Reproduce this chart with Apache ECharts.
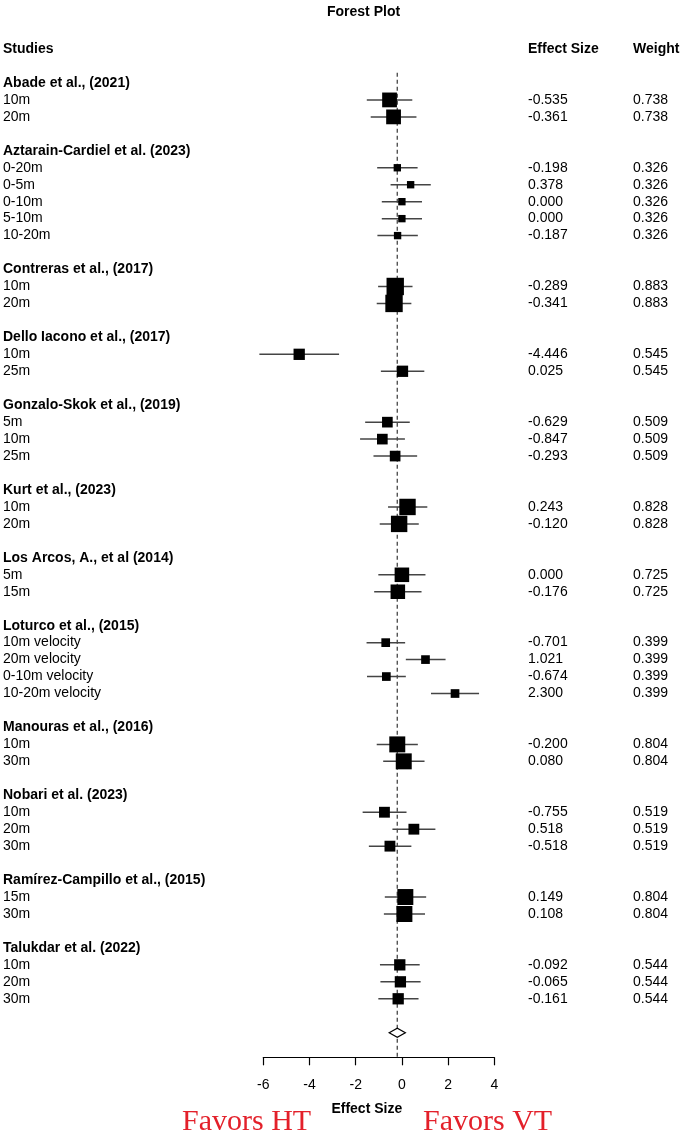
<!DOCTYPE html>
<html>
<head>
<meta charset="utf-8">
<script src="https://cdn.jsdelivr.net/npm/echarts@6/dist/echarts.min.js"></script>
<style>
  html, body { margin: 0; padding: 0; background: #fff; }
  #chart { width: 688px; height: 1134px; }
</style>
</head>
<body>
<div id="chart"></div>
<script>
const studyNames = [
  "Abade et al., (2021)",
  "Aztarain-Cardiel et al. (2023)",
  "Contreras et al., (2017)",
  "Dello Iacono et al., (2017)",
  "Gonzalo-Skok et al., (2019)",
  "Kurt et al., (2023)",
  "Los Arcos, A., et al (2014)",
  "Loturco et al., (2015)",
  "Manouras et al., (2016)",
  "Nobari et al. (2023)",
  "Ramírez-Campillo et al., (2015)",
  "Talukdar et al. (2022)",
];
const outcomeStudy = [0, 0, 1, 1, 1, 1, 1, 2, 2, 3, 3, 4, 4, 4, 5, 5, 6, 6, 7, 7, 7, 7, 8, 8, 9, 9, 9, 10, 10, 11, 11, 11];
const outcomeLabels = [
  "10m", "20m",
  "0-20m", "0-5m", "0-10m", "5-10m", "10-20m",
  "10m", "20m",
  "10m", "25m",
  "5m", "10m", "25m",
  "10m", "20m",
  "5m", "15m",
  "10m velocity", "20m velocity", "0-10m velocity", "10-20m velocity",
  "10m", "30m",
  "10m", "20m", "30m",
  "15m", "30m",
  "10m", "20m", "30m",
];
const effectSizes = [
  -0.535, -0.361,
  -0.198, 0.378, 0.0, 0.0, -0.187,
  -0.289, -0.341,
  -4.446, 0.025,
  -0.629, -0.847, -0.293,
  0.243, -0.12,
  0.0, -0.176,
  -0.701, 1.021, -0.674, 2.3,
  -0.2, 0.08,
  -0.755, 0.518, -0.518,
  0.149, 0.108,
  -0.092, -0.065, -0.161,
];
const ciLower = [
  -1.52, -1.35,
  -1.07, -0.49, -0.87, -0.87, -1.06,
  -1.03, -1.09,
  -6.17, -0.91,
  -1.59, -1.81, -1.23,
  -0.6, -0.96,
  -1.02, -1.2,
  -1.53, 0.17, -1.51, 1.26,
  -1.09, -0.81,
  -1.7, -0.41, -1.43,
  -0.74, -0.78,
  -0.95, -0.93, -1.02,
];
const ciUpper = [
  0.45, 0.63,
  0.68, 1.25, 0.87, 0.87, 0.69,
  0.46, 0.41,
  -2.72, 0.97,
  0.34, 0.13, 0.66,
  1.1, 0.73,
  1.02, 0.85,
  0.14, 1.89, 0.17, 3.34,
  0.69, 0.98,
  0.2, 1.45, 0.41,
  1.05, 1.0,
  0.77, 0.81, 0.72,
];
const weights = [
  0.738, 0.738,
  0.326, 0.326, 0.326, 0.326, 0.326,
  0.883, 0.883,
  0.545, 0.545,
  0.509, 0.509, 0.509,
  0.828, 0.828,
  0.725, 0.725,
  0.399, 0.399, 0.399, 0.399,
  0.804, 0.804,
  0.519, 0.519, 0.519,
  0.804, 0.804,
  0.544, 0.544, 0.544,
];
const summaryEffect = -0.2;
const summaryLower = -0.55;
const summaryUpper = 0.15;
const columnHeaders = ["Studies", "Effect Size", "Weight"];
const xTicks = { min: -6, max: 4, interval: 2 };

// table layout: one line per row, group header, outcomes, blank line
const tableRows = [{ k: -2, cells: columnHeaders, bold: true }];
const outcomeRow = [];
let k = 0;
studyNames.forEach((name, s) => {
  tableRows.push({ k, cells: [name, "", ""], bold: true });
  k++;
  outcomeLabels.forEach((label, i) => {
    if (outcomeStudy[i] !== s) return;
    outcomeRow[i] = k;
    tableRows.push({
      k,
      cells: [label, effectSizes[i].toFixed(3), weights[i].toFixed(3)],
      bold: false,
    });
    k++;
  });
  k++;
});
const summaryRow = k;
const yMax = summaryRow + 1.45;

const FONT = "'Liberation Sans', Arial, Helvetica, sans-serif";
const columnX = [3, 528, 633];

const chart = echarts.init(document.getElementById("chart"), undefined, { renderer: "canvas" });
chart.setOption({
  animation: false,
  backgroundColor: "#fff",
  title: {
    text: "Forest Plot",
    left: 322,
    top: 0,
    textStyle: { fontFamily: FONT, fontSize: 14, fontWeight: "bold", color: "#000" },
  },
  grid: { left: 263.3, right: 193.7, top: 66, bottom: 76.7 },
  xAxis: {
    type: "value",
    min: xTicks.min,
    max: xTicks.max,
    interval: xTicks.interval,
    name: "Effect Size",
    nameLocation: "middle",
    nameGap: 45,
    nameTextStyle: {
      fontFamily: FONT,
      fontSize: 14,
      fontWeight: "bold",
      color: "#000",
      padding: [0, 24, 0, 0],
    },
    axisLine: { onZero: false, lineStyle: { color: "#000", width: 1.2 } },
    axisTick: { length: 8, lineStyle: { color: "#000", width: 1.2 } },
    axisLabel: { fontFamily: FONT, fontSize: 14, color: "#000", margin: 21 },
    splitLine: { show: false },
  },
  yAxis: { type: "value", inverse: true, min: -1, max: yMax, show: false },
  graphic: [
    {
      type: "text",
      left: 182,
      top: 1107,
      style: { text: "Favors HT", font: "30px 'Liberation Serif', 'Times New Roman', serif", fill: "#e3202a" },
    },
    {
      type: "text",
      left: 423,
      top: 1107,
      style: { text: "Favors VT", font: "30px 'Liberation Serif', 'Times New Roman', serif", fill: "#e3202a" },
    },
  ],
  series: [
    {
      // reference line at the pooled effect
      type: "line",
      data: [[summaryEffect, -0.6], [summaryEffect, yMax]],
      symbol: "none",
      lineStyle: { color: "#555", width: 1.4, type: [4, 3] },
      silent: true,
      z: 1,
    },
    {
      type: "custom",
      clip: false,
      data: outcomeLabels.map((_, i) => [ciLower[i], ciUpper[i], outcomeRow[i]]),
      encode: { x: [0, 1], y: 2 },
      renderItem: (params, api) => {
        const a = api.coord([api.value(0), api.value(2)]);
        const b = api.coord([api.value(1), api.value(2)]);
        return {
          type: "line",
          shape: { x1: a[0], y1: a[1], x2: b[0], y2: b[1] },
          style: { stroke: "#444", lineWidth: 1.5 },
        };
      },
      z: 2,
    },
    {
      type: "scatter",
      symbol: "rect",
      symbolSize: (v) => v[2] * 18 + 1.5,
      data: outcomeLabels.map((_, i) => [effectSizes[i], outcomeRow[i], weights[i]]),
      itemStyle: { color: "#000", opacity: 1 },
      clip: false,
      z: 3,
    },
    {
      type: "custom",
      clip: false,
      data: [[summaryLower, summaryEffect, summaryUpper, summaryRow]],
      encode: { x: [0, 1, 2], y: 3 },
      renderItem: (params, api) => {
        const l = api.coord([api.value(0), api.value(3)]);
        const m = api.coord([api.value(1), api.value(3)]);
        const r = api.coord([api.value(2), api.value(3)]);
        const h = 4.5;
        return {
          type: "polygon",
          shape: { points: [[l[0], l[1]], [m[0], m[1] - h], [r[0], r[1]], [m[0], m[1] + h]] },
          style: { fill: "#fff", stroke: "#000", lineWidth: 1.2 },
        };
      },
      z: 4,
    },
    {
      type: "custom",
      clip: false,
      silent: true,
      data: tableRows.map((r) => [0, r.k]),
      encode: { x: 0, y: 1 },
      renderItem: (params, api) => {
        const row = tableRows[params.dataIndex];
        const y = api.coord([0, api.value(1)])[1];
        return {
          type: "group",
          children: row.cells.map((text, c) => ({
            type: "text",
            x: columnX[c],
            y,
            style: {
              text,
              fontFamily: FONT,
              fontSize: 14,
              fontWeight: row.bold ? "bold" : "normal",
              fill: "#000",
              align: "left",
              verticalAlign: "middle",
            },
          })),
        };
      },
      z: 5,
    },
  ],
});
</script>
</body>
</html>
